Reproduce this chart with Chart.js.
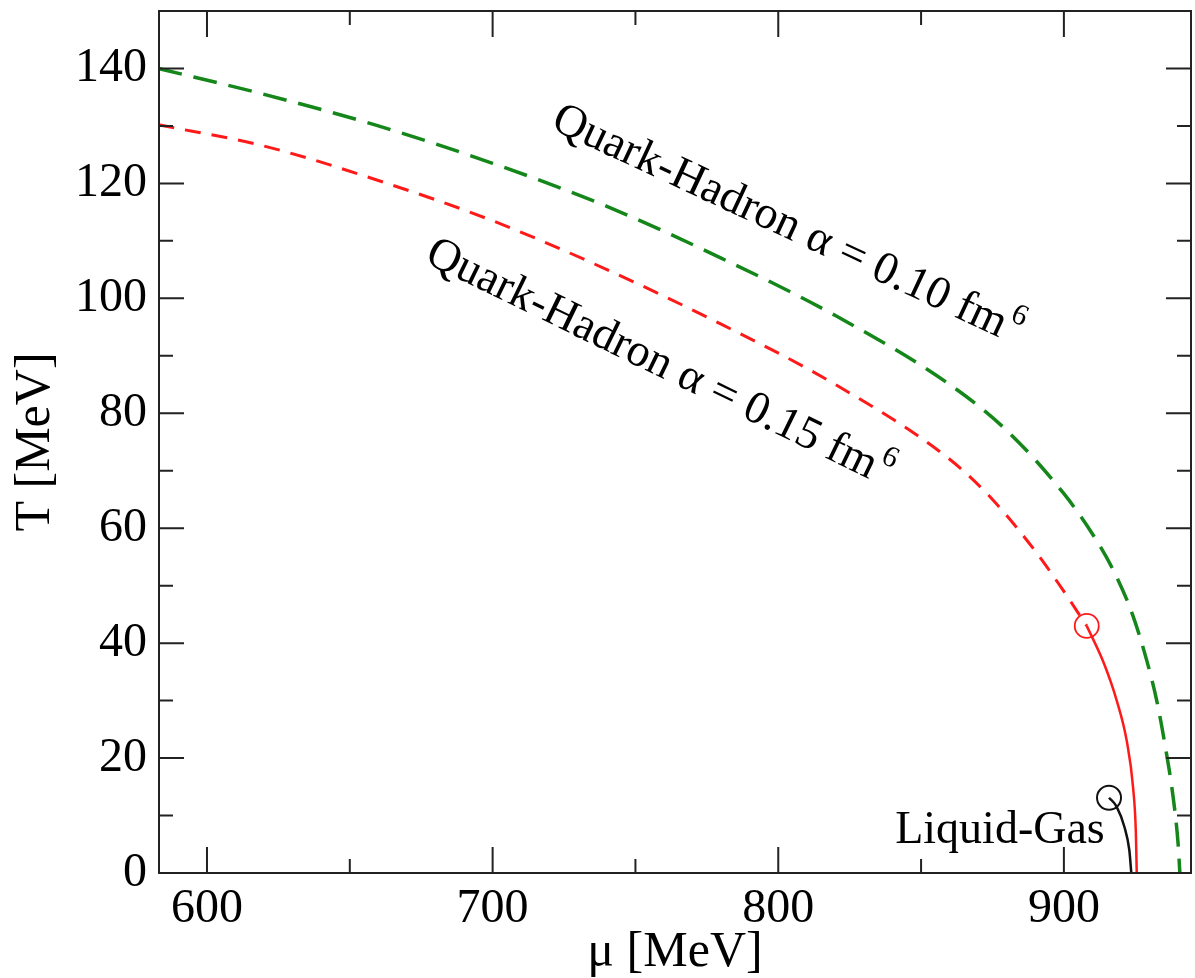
<!DOCTYPE html>
<html>
<head>
<meta charset="utf-8">
<script src="https://cdn.jsdelivr.net/npm/chart.js@4"></script>
<style>
  body { margin: 0; background: #fff; }
  #wrap { width: 1195px; height: 978px; }
</style>
</head>
<body>
<div id="wrap"><canvas id="phase" width="1195" height="978"></canvas></div>
<script>
// values (mu in MeV, T in MeV)
const muGreen = [583, 620, 660, 700, 740, 780, 820, 860, 880, 900, 910, 918, 924, 929, 932.5, 935.5, 938.3, 940, 940.6];
const tGreen  = [140, 135.5, 130, 123.5, 116, 107, 97, 85, 77, 66, 59, 52, 45, 37, 30, 22, 13, 5, 0];

const muRedDashed = [583, 620, 660, 700, 740, 780, 820, 860, 875, 890, 900, 908];
const tRedDashed  = [130.2, 126.5, 120.5, 113.5, 105, 95.5, 85, 72, 65, 56, 49, 43];

const muRedSolid = [908, 914, 918.5, 922, 924.2, 925.2, 925.5];
const tRedSolid  = [43, 36.5, 30, 23, 15, 7, 0];

const muBlack = [915.8, 918.4, 921.2, 922.9, 923.6];
const tBlack  = [13.1, 11.6, 8, 4, 0];

const redEnd = [908, 43];      // critical end point, quark-hadron
const blackEnd = [915.8, 13.1]; // critical end point, liquid-gas

const xTicks = [600, 700, 800, 900];
const xMinor = [650, 750, 850];
const yTicks = [0, 20, 40, 60, 80, 100, 120, 140];
const yMinor = [10, 30, 50, 70, 90, 110, 130];

const pts = (xs, ys) => xs.map((x, i) => ({ x, y: ys[i] }));

const GREEN = '#15871a';
const RED = '#ff1a1a';
const SERIF = '"Liberation Serif", "DejaVu Serif", serif';

// box frame with inward ticks on all four sides
const frameTicks = {
  id: 'frameTicks',
  afterDatasetsDraw(chart) {
    const { ctx, chartArea: a, scales: { x, y } } = chart;
    ctx.save();
    ctx.strokeStyle = '#222';
    ctx.lineWidth = 2;
    ctx.strokeRect(a.left, a.top, a.right - a.left, a.bottom - a.top);
    ctx.beginPath();
    const xt = (v, len) => {
      const px = x.getPixelForValue(v);
      ctx.moveTo(px, a.bottom); ctx.lineTo(px, a.bottom - len);
      ctx.moveTo(px, a.top); ctx.lineTo(px, a.top + len);
    };
    const yt = (v, len) => {
      const py = y.getPixelForValue(v);
      ctx.moveTo(a.left, py); ctx.lineTo(a.left + len, py);
      ctx.moveTo(a.right, py); ctx.lineTo(a.right - len, py);
    };
    xTicks.forEach(v => xt(v, 26));
    xMinor.forEach(v => xt(v, 14));
    yTicks.forEach(v => yt(v, 25));
    yMinor.forEach(v => yt(v, 14));
    ctx.stroke();
    ctx.restore();
  }
};

// rotated curve labels and the liquid-gas label
const curveLabels = {
  id: 'curveLabels',
  afterDatasetsDraw(chart) {
    const { ctx, scales: { x, y } } = chart;
    const rotated = (text, sup, mu, t, deg) => {
      ctx.save();
      ctx.translate(x.getPixelForValue(mu), y.getPixelForValue(t));
      ctx.rotate(deg * Math.PI / 180);
      ctx.font = '46px ' + SERIF;
      const w1 = ctx.measureText(text).width;
      ctx.font = '30px ' + SERIF;
      const w2 = ctx.measureText(sup).width;
      const start = -(w1 + w2 + 2) / 2;
      ctx.fillStyle = '#000';
      ctx.textBaseline = 'alphabetic';
      ctx.font = '46px ' + SERIF;
      ctx.fillText(text, start, 14);
      ctx.font = '30px ' + SERIF;
      ctx.fillText(sup, start + w1 + 2, -6);
      ctx.restore();
    };
    rotated('Quark-Hadron \u03b1 = 0.10 fm', '6', 803.4, 113, 25);
    rotated('Quark-Hadron \u03b1 = 0.15 fm', '6', 758.6, 89, 26);

    ctx.save();
    ctx.font = '46px ' + SERIF;
    ctx.fillStyle = '#000';
    ctx.textAlign = 'right';
    ctx.textBaseline = 'alphabetic';
    ctx.fillText('Liquid-Gas', x.getPixelForValue(914.3), y.getPixelForValue(5.2));
    ctx.restore();
  }
};

new Chart(document.getElementById('phase'), {
  type: 'scatter',
  data: {
    datasets: [
      {
        data: pts(muGreen, tGreen), showLine: true, borderColor: GREEN, borderWidth: 3.5,
        borderDash: [24, 12], pointRadius: 0, cubicInterpolationMode: 'monotone'
      },
      {
        data: pts(muRedDashed, tRedDashed), showLine: true, borderColor: RED, borderWidth: 3,
        borderDash: [16, 11], pointRadius: 0, cubicInterpolationMode: 'monotone'
      },
      {
        data: pts(muRedSolid, tRedSolid), showLine: true, borderColor: RED, borderWidth: 2.5,
        pointRadius: 0, cubicInterpolationMode: 'monotone'
      },
      {
        data: pts(muBlack, tBlack), showLine: true, borderColor: '#111', borderWidth: 2.5,
        pointRadius: 0, cubicInterpolationMode: 'monotone'
      },
      {
        data: [{ x: redEnd[0], y: redEnd[1] }], pointRadius: 12, pointBorderWidth: 1.8,
        pointBorderColor: RED, pointBackgroundColor: 'rgba(0,0,0,0)'
      },
      {
        data: [{ x: blackEnd[0], y: blackEnd[1] }], pointRadius: 12, pointBorderWidth: 2,
        pointBorderColor: '#111', pointBackgroundColor: 'rgba(0,0,0,0)'
      }
    ]
  },
  options: {
    responsive: false,
    animation: false,
    layout: { autoPadding: false, padding: { top: 11, right: 4, left: 0, bottom: 0 } },
    plugins: { legend: { display: false }, tooltip: { enabled: false } },
    scales: {
      x: {
        type: 'linear', min: 583.2, max: 944.5,
        afterBuildTicks: s => { s.ticks = xTicks.map(v => ({ value: v })); },
        afterFit: s => { s.height = 105; s.paddingLeft = 0; s.paddingRight = 0; },
        grid: { display: false, drawTicks: false },
        border: { display: false },
        ticks: { color: '#000', padding: 8, font: { family: SERIF, size: 48 }, maxRotation: 0 },
        title: {
          display: true, text: '\u03bc [MeV]', color: '#000',
          font: { family: SERIF, size: 50, lineHeight: 1 }, padding: { top: 0, bottom: 0 }
        }
      },
      y: {
        type: 'linear', min: 0, max: 150,
        afterBuildTicks: s => { s.ticks = yTicks.map(v => ({ value: v })); },
        afterFit: s => { s.width = 159; s.paddingTop = 0; s.paddingBottom = 0; },
        grid: { display: false, drawTicks: false },
        border: { display: false },
        ticks: { color: '#000', padding: 12, font: { family: SERIF, size: 48 } },
        title: {
          display: true, text: 'T [MeV]', color: '#000',
          font: { family: SERIF, size: 50, lineHeight: 1 }, padding: { top: 11, bottom: 0 }
        }
      }
    }
  },
  plugins: [frameTicks, curveLabels]
});
</script>
</body>
</html>
